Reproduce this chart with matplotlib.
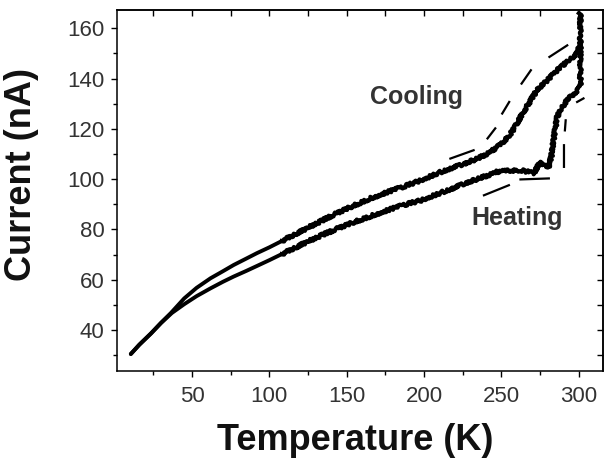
import matplotlib.pyplot as plt
import numpy as np
from matplotlib.ticker import MultipleLocator

plt.rcParams['font.family'] = ['Liberation Sans', 'DejaVu Sans']

# Heating branch (lower curve), T in K, I in nA
heat_T = [10.5, 16, 23.5, 30, 37, 45, 53, 62, 70, 77, 85, 92, 100, 108, 115, 122,
          133, 144, 155, 165, 176, 187, 198, 206, 216, 226, 237, 247, 255, 262,
          267, 271, 275, 279, 281, 282.5, 284, 286, 289, 292.5, 295, 298, 301, 301]
heat_I = [30.5, 34.2, 38.6, 42.8, 46.8, 50.3, 53.5, 56.6, 59.2, 61.3, 63.5, 65.5, 67.8, 70.2,
          72.3, 74.4, 77.5, 80.4, 83.0, 85.2, 87.6, 89.8, 91.6, 93.5, 95.8, 98.3, 100.6, 102.9,
          103.4, 103.6, 103.0, 102.3, 107.0, 104.9, 105.5, 110.0, 116.8, 124.8, 128.5, 131.4,
          133.0, 134.7, 136.7, 166.0]

# Cooling branch (upper curve)
cool_T = [10.5, 16, 23.5, 30, 36.4, 45, 53, 62, 70, 77, 85, 92, 100, 108, 115, 122,
          133, 144, 155, 165, 176, 187, 198, 208, 217, 226, 235, 243, 250, 256, 260,
          263.5, 268, 273, 280, 286, 292, 299, 301]
cool_I = [30.5, 34.2, 38.7, 42.9, 46.8, 52.6, 56.8, 60.6, 63.4, 65.9, 68.4, 70.6, 72.9, 75.4,
          77.6, 79.8, 83.2, 86.6, 89.6, 92.3, 94.8, 97.1, 99.6, 102.2, 104.3, 106.2, 108.3,
          110.9, 114.0, 118.2, 122.0, 126.1, 130.5, 135.4, 139.5, 143.3, 146.5, 150.0, 154.0]

# dashed reference traces (NaN separates the dashes)
cool_ref_T = [217, 232, np.nan, 241, 246, np.nan, 250.5, 255, np.nan, 263, 269, np.nan, 281, 292.5]
cool_ref_I = [108.2, 111.5, np.nan, 116.2, 120.2, np.nan, 126.1, 130.7, np.nan, 138.0, 143.3,
              np.nan, 148.6, 153.2]
heat_ref_T = [238.7, 254.8, np.nan, 262.3, 280.6, np.nan, 290.4, 290.4, np.nan, 291, 291.5,
              np.nan, 298.9, 303]
heat_ref_I = [93.6, 97.6, np.nan, 99.9, 100.3, np.nan, 104.9, 113.5, np.nan, 119.4, 123.4,
              np.nan, 130.7, 132.1]

xticks = [50, 100, 150, 200, 250, 300]
yticks = [40, 60, 80, 100, 120, 140, 160]

fig = plt.figure(figsize=(6.12, 4.61), dpi=100)
ax = fig.add_axes([0.191, 0.195, 0.794, 0.783])

for T, I in [(heat_T, heat_I), (cool_T, cool_I)]:
    T = np.array(T)
    I = np.array(I)
    smooth = T <= 115
    ax.plot(T[smooth], I[smooth], color='black', lw=2.8, solid_capstyle='round')
    ln, = ax.plot(T[T >= 108], I[T >= 108], color='black', lw=3.0)
    ln.set_sketch_params(scale=1.5, length=3, randomness=3)

ax.plot(cool_ref_T, cool_ref_I, color='black', lw=1.6)
ax.plot(heat_ref_T, heat_ref_I, color='black', lw=1.6)

ax.text(195, 132.6, 'Cooling', fontsize=18, fontweight='bold', color='#333333',
        ha='center', va='center')
ax.text(260, 84.4, 'Heating', fontsize=18, fontweight='bold', color='#333333',
        ha='center', va='center')

ax.set_xlim(1.5, 315.5)
ax.set_ylim(23.7, 167.2)
ax.set_xticks(xticks)
ax.set_yticks(yticks)
ax.xaxis.set_minor_locator(MultipleLocator(25))
ax.yaxis.set_minor_locator(MultipleLocator(10))
ax.tick_params(which='both', direction='out', labelsize=16, labelcolor='#333333', width=1)
ax.tick_params(which='major', length=4)
ax.tick_params(which='minor', length=3)
ax.tick_params(axis='x', pad=7)
ax.tick_params(axis='y', pad=5)

top = ax.secondary_xaxis('top')
top.set_xticks(xticks)
top.xaxis.set_minor_locator(MultipleLocator(25))
top.tick_params(which='both', direction='in', labeltop=False, length=4, width=1)
right = ax.secondary_yaxis('right')
right.set_yticks(yticks)
right.yaxis.set_minor_locator(MultipleLocator(10))
right.tick_params(which='both', direction='in', labelright=False, length=4, width=1)

for s in list(ax.spines.values()) + [top.spines['top'], right.spines['right']]:
    s.set_linewidth(1.1)

ax.set_xlabel('Temperature (K)', fontsize=26, fontweight='bold', color='#111111')
ax.set_ylabel('Current (nA)', fontsize=26, fontweight='bold', color='#111111')
ax.xaxis.set_label_coords(0.49, -0.145)
ax.yaxis.set_label_coords(-0.16, 0.546)

fig.savefig('out.png', dpi=100)
